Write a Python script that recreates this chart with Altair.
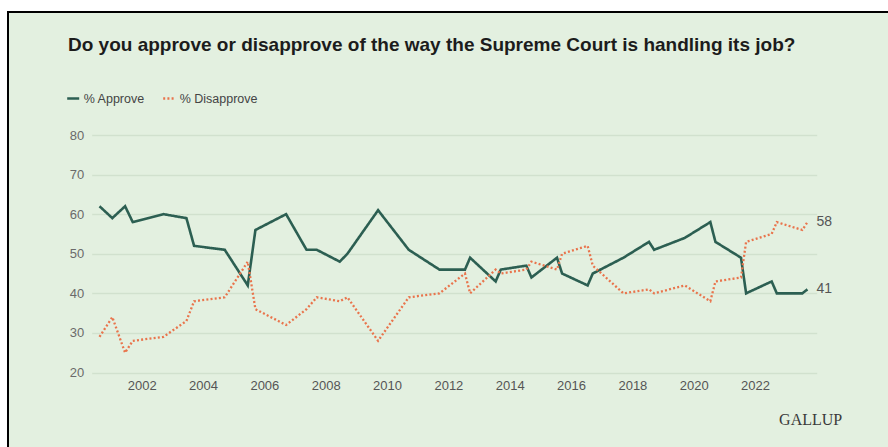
import altair as alt
import pandas as pd

# ---- data (Gallup, % approve / % disapprove) ----
months = [
    "2000-08", "2001-01", "2001-06", "2001-09", "2002-09", "2003-06", "2003-09",
    "2004-09", "2005-06", "2005-09", "2006-09", "2007-05", "2007-09", "2008-06",
    "2008-09", "2009-09", "2010-09", "2011-09", "2012-07", "2012-09", "2013-07",
    "2013-09", "2014-07", "2014-09", "2015-07", "2015-09", "2016-07", "2016-09",
    "2017-09", "2018-07", "2018-09", "2019-09", "2020-07", "2020-09", "2021-07",
    "2021-09", "2022-07", "2022-09", "2023-07", "2023-09",
]
approve = [62, 59, 62, 58, 60, 59, 52, 51, 42, 56, 60, 51, 51, 48, 50, 61, 51, 46,
           46, 49, 43, 46, 47, 44, 49, 45, 42, 45, 49, 53, 51, 54, 58, 53, 49, 40,
           43, 40, 40, 41]
disapprove = [29, 34, 25, 28, 29, 33, 38, 39, 48, 36, 32, 36, 39, 38, 39, 28, 39, 40,
              45, 40, 46, 45, 46, 48, 46, 50, 52, 47, 40, 41, 40, 42, 38, 43, 44, 53,
              55, 58, 56, 58]
series_names = ["% Approve", "% Disapprove"]
year_ticks = [2002, 2004, 2006, 2008, 2010, 2012, 2014, 2016, 2018, 2020, 2022]
y_ticks = [20, 30, 40, 50, 60, 70, 80]

TITLE = "Do you approve or disapprove of the way the Supreme Court is handling its job?"

# ---- styling ----
BG = "#e3f0e0"
GRID = "#d1e1ce"
GREEN = "#2c5f52"
ORANGE = "#e9744c"
TXT = "#555555"

def to_decimal(s):
    y, m = s.split("-")
    return int(y) + (int(m) - 0.5) / 12.0

rows = []
for s, a, d in zip(months, approve, disapprove):
    t = to_decimal(s)
    rows.append({"t": t, "value": a, "series": series_names[0]})
    rows.append({"t": t, "value": d, "series": series_names[1]})
df = pd.DataFrame(rows)
last = df[df["t"] == df["t"].max()]

# plot-area geometry (pixels)
L, T, R, B = 91.7, 135.0, 816.7, 372.5
W, H = R - L, B - T

xscale = alt.Scale(domain=[2000.37, 2024.01], nice=False, zero=False)
yscale = alt.Scale(domain=[20, 80], nice=False, zero=False)

x_axis = alt.Axis(values=year_ticks, format="d", grid=False, domain=False, ticks=False,
                  labelPadding=7, labelFontSize=13, labelColor=TXT, labelFont="Liberation Sans",
                  title="GALLUP", titleFont="Liberation Serif", titleFontSize=16,
                  titleFontWeight="normal", titleColor="#3a3a3a", titleX=750, titleY=47,
                  titleAlign="right", titleBaseline="middle")
y_axis = alt.Axis(values=y_ticks, grid=True, gridColor=GRID, gridWidth=1.5, domain=False,
                  ticks=False, labelPadding=8, labelFontSize=13, labelColor="#6a6a6a",
                  labelFont="Liberation Sans", labelOverlap=False, title=None)

x_enc = alt.X("t:Q", scale=xscale, axis=x_axis)
y_enc = alt.Y("value:Q", scale=yscale, axis=y_axis)

color_scale = alt.Scale(domain=series_names, range=[GREEN, ORANGE])
dash_scale = alt.Scale(domain=series_names, range=[[1, 0], [2, 2.2]])

legend = alt.Legend(title=None, orient="none", legendX=-26, legendY=-44, direction="horizontal",
                    symbolType="stroke", symbolSize=144, symbolStrokeWidth=2.4,
                    labelFontSize=12.5, labelColor="#444444", labelFont="Liberation Sans",
                    labelOffset=3, columnPadding=12)

lines = alt.Chart(df).mark_line(strokeCap="butt", strokeJoin="miter").encode(
    x=x_enc,
    y=y_enc,
    color=alt.Color("series:N", scale=color_scale, legend=legend),
    strokeDash=alt.StrokeDash("series:N", scale=dash_scale, legend=legend),
    strokeWidth=alt.StrokeWidth("series:N", scale=alt.Scale(domain=series_names, range=[2.6, 2.3]),
                                legend=None),
)

end_labels = alt.Chart(last).mark_text(align="left", baseline="middle", dx=9, fontSize=14,
                                       color=TXT, font="Liberation Sans").encode(
    x=x_enc,
    y=y_enc,
    text=alt.Text("value:Q", format="d"),
)

one = alt.Data(values=[{"k": 1}])
white_left = alt.Chart(one).mark_rect(fill="white").encode(
    x=alt.value(-L - 5), x2=alt.value(7 - L), y=alt.value(-T - 5), y2=alt.value(460 - T))
white_top = alt.Chart(one).mark_rect(fill="white").encode(
    x=alt.value(-L - 5), x2=alt.value(900 - L), y=alt.value(-T - 5), y2=alt.value(11 - T))
frame = alt.Chart(one).mark_rect(fill="white", fillOpacity=0, stroke="black", strokeWidth=2).encode(
    x=alt.value(8 - L), x2=alt.value(1000 - L), y=alt.value(12 - T), y2=alt.value(1000 - T))
title = alt.Chart(alt.Data(values=[{"txt": TITLE}])).mark_text(
    align="left", baseline="middle", fontSize=19, fontWeight="bold", font="Liberation Sans",
    color="#1c1c1c").encode(x=alt.value(68 - L), y=alt.value(45 - T), text="txt:N")

chart = alt.layer(white_left, white_top, frame, title, lines, end_labels).properties(
    width=W, height=H,
    padding={"left": L, "top": T, "right": 888 - R, "bottom": 447 - B},
    autosize=alt.AutoSizeParams(type="none"),
    background=BG,
).configure_view(stroke=None)

chart.save("out.html", embed_options={"renderer": "svg", "actions": False})
